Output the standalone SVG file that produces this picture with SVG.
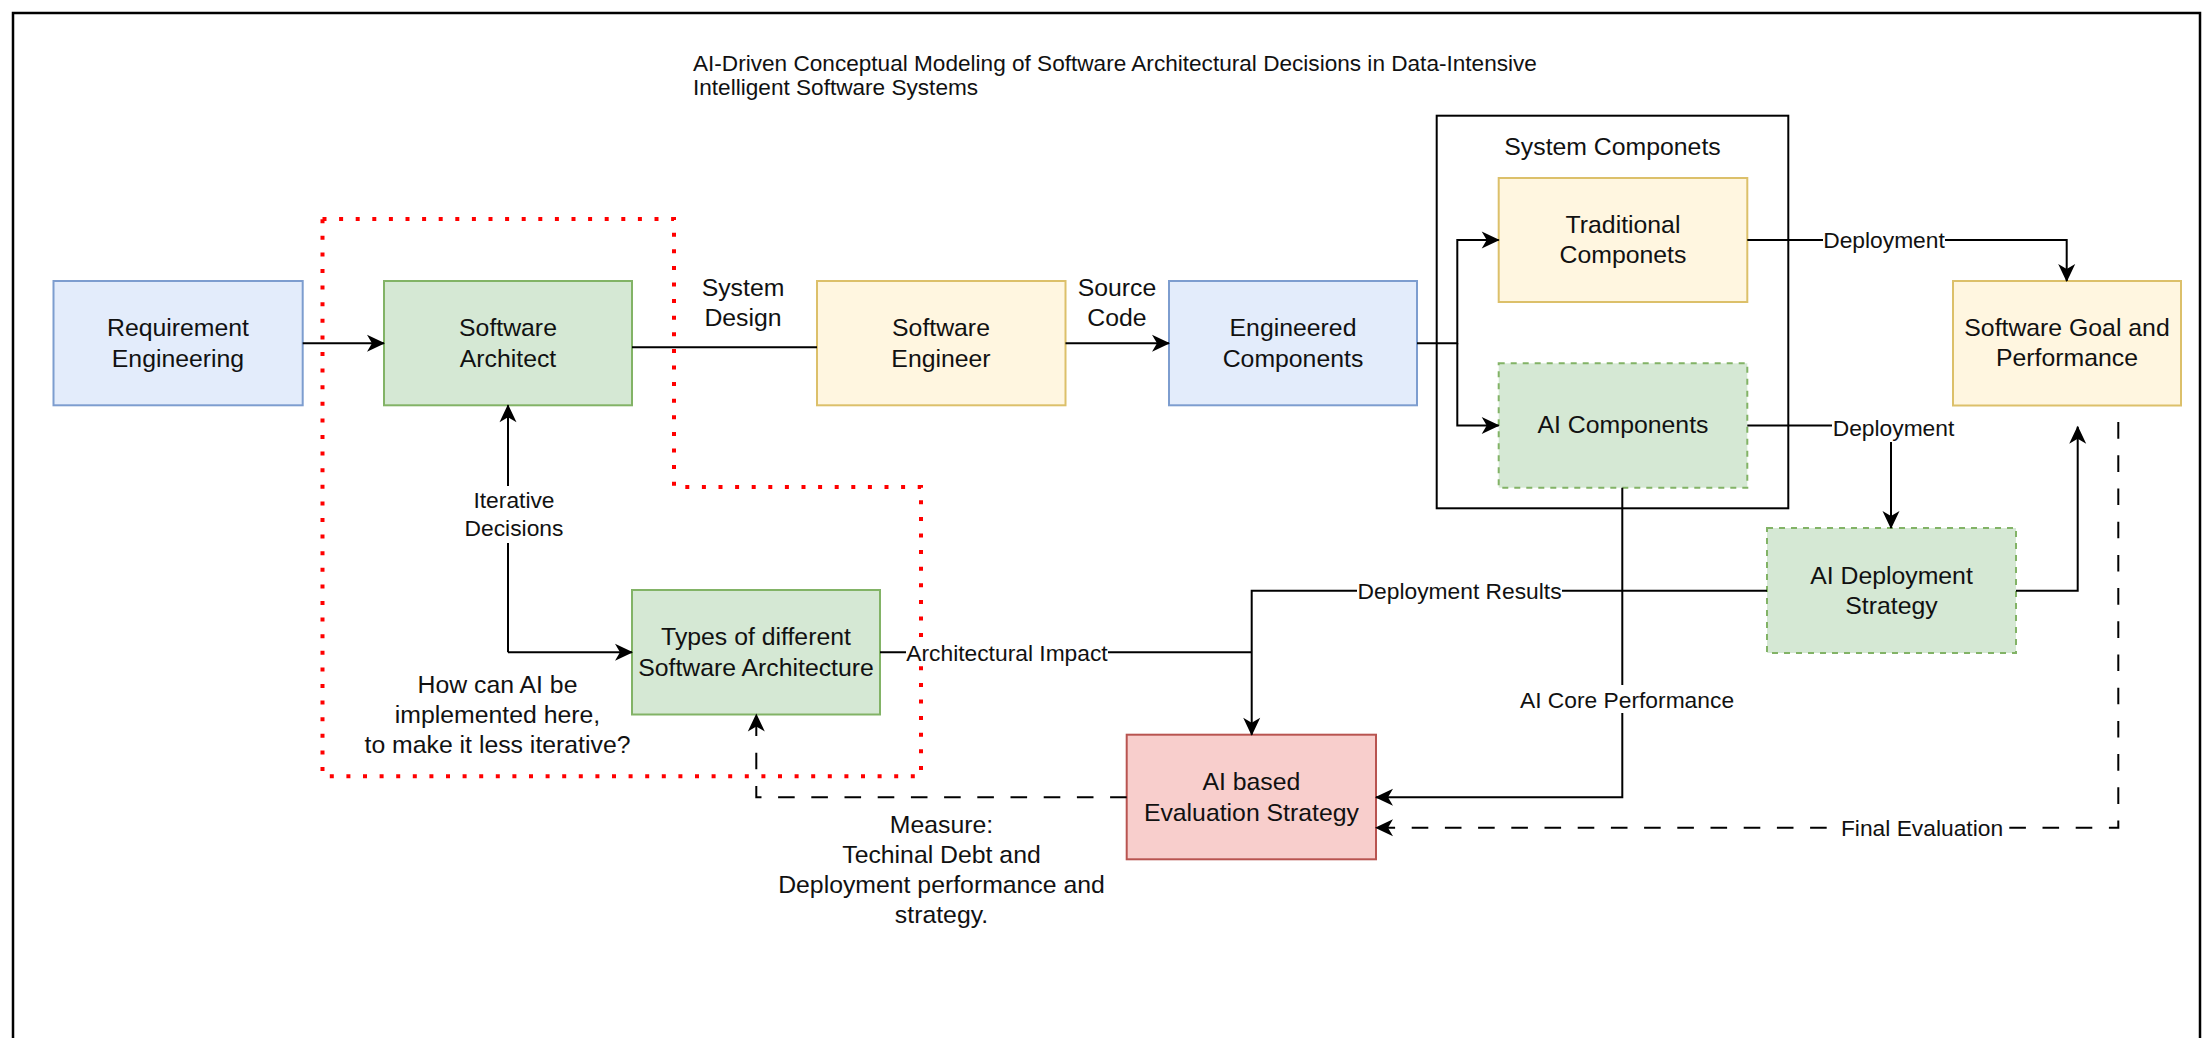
<svg xmlns="http://www.w3.org/2000/svg" width="2208" height="1038" viewBox="0 0 2208 1038">
<defs>
<style>
.t{font-family:"Liberation Sans",Arial,Helvetica,sans-serif;fill:#111}
.n{font-size:24.8px;text-anchor:middle}
.e{font-size:22.8px;text-anchor:middle}
.c{fill:none;stroke:#000;stroke-width:2}
.d{stroke-dasharray:16.6 16.6}
.bg{fill:#fff}
.blue{fill:#e3ecfb;stroke:#7d9dcf;stroke-width:2}
.green{fill:#d5e8d4;stroke:#82b366;stroke-width:2}
.greend{fill:#d5e8d4;stroke:#82b366;stroke-width:2;stroke-dasharray:6 6}
.yellow{fill:#fff6e0;stroke:#dcc06a;stroke-width:2}
.red{fill:#f8cecc;stroke:#b85450;stroke-width:2}
</style>
<marker id="arr" markerUnits="userSpaceOnUse" viewBox="0 0 18 17" markerWidth="18" markerHeight="17" refX="17" refY="8.5" orient="auto-start-reverse" overflow="visible">
<path d="M0,0 L18,8.5 L0,17 L5,8.5 Z" fill="#000"/>
</marker>
</defs>
<rect x="0" y="0" width="2208" height="1038" fill="#fff"/>
<rect id="frame" x="13" y="13" width="2187" height="1100" fill="none" stroke="#000" stroke-width="2.5"/>

<g id="title">
<text class="t" x="693" y="71" font-size="22.6">AI-Driven Conceptual Modeling of Software Architectural Decisions in Data-Intensive</text>
<text class="t" x="693" y="95" font-size="22.6">Intelligent Software Systems</text>
</g>

<g id="ai-focus-region">
<path d="M322.5,219 H674 V487 H921 V776.3 H322.5 Z" fill="none" stroke="#ff0000" stroke-width="4" stroke-dasharray="4 12.6"/>
</g>

<g id="system-components">
<rect x="1436.7" y="115.7" width="351.6" height="392.6" fill="none" stroke="#000" stroke-width="2"/>
<text class="t n" x="1612.5" y="154.5">System Componets</text>
</g>

<g id="requirement-engineering">
<rect class="blue" x="53.5" y="281" width="249.2" height="124.3"/>
<text class="t n" x="178" y="336">Requirement</text>
<text class="t n" x="178" y="366.5">Engineering</text>
</g>
<g id="software-architect">
<rect class="green" x="384" y="281" width="248" height="124.3"/>
<text class="t n" x="508" y="336">Software</text>
<text class="t n" x="508" y="366.5">Architect</text>
</g>
<g id="software-engineer">
<rect class="yellow" x="817" y="281" width="248.5" height="124.3"/>
<text class="t n" x="941" y="336">Software</text>
<text class="t n" x="941" y="366.5">Engineer</text>
</g>
<g id="engineered-components">
<rect class="blue" x="1169" y="281" width="248" height="124.3"/>
<text class="t n" x="1293" y="336">Engineered</text>
<text class="t n" x="1293" y="366.5">Components</text>
</g>
<g id="traditional-componets">
<rect class="yellow" x="1498.7" y="178" width="248.6" height="124"/>
<text class="t n" x="1623" y="232.7">Traditional</text>
<text class="t n" x="1623" y="263.3">Componets</text>
</g>
<g id="ai-components">
<rect class="greend" x="1498.7" y="363.3" width="248.6" height="124.4"/>
<text class="t n" x="1623" y="432.7">AI Components</text>
</g>
<g id="software-goal">
<rect class="yellow" x="1953" y="281" width="228" height="124.5"/>
<text class="t n" x="2067" y="335.7">Software Goal and</text>
<text class="t n" x="2067" y="366.3">Performance</text>
</g>
<g id="ai-deployment-strategy">
<rect class="greend" x="1767" y="528" width="249" height="125"/>
<text class="t n" x="1891.5" y="583.5">AI Deployment</text>
<text class="t n" x="1891.5" y="614">Strategy</text>
</g>
<g id="types-of-architecture">
<rect class="green" x="632" y="590" width="248" height="124.5"/>
<text class="t n" x="756" y="645">Types of different</text>
<text class="t n" x="756" y="676">Software Architecture</text>
</g>
<g id="ai-evaluation-strategy">
<rect class="red" x="1126.7" y="734.7" width="249.3" height="124.6"/>
<text class="t n" x="1251.4" y="790">AI based</text>
<text class="t n" x="1251.4" y="820.5">Evaluation Strategy</text>
</g>

<g id="question-note">
<text class="t n" x="497.5" y="692.5">How can AI be</text>
<text class="t n" x="497.5" y="722.5">implemented here,</text>
<text class="t n" x="497.5" y="752.5">to make it less iterative?</text>
</g>

<g id="connectors">
<path class="c" d="M302.7,343.3 H384" marker-end="url(#arr)"/>
<path class="c" d="M632,347.3 H817"/>
<path class="c" d="M1065.5,343.3 H1169" marker-end="url(#arr)"/>
<path class="c" d="M1417,343.3 H1457.3 V240 H1498.7" marker-end="url(#arr)"/>
<path class="c" d="M1457.3,343.3 V425.5 H1498.7" marker-end="url(#arr)"/>
<path class="c" d="M1747.3,240 H2066.7 V281" marker-end="url(#arr)"/>
<path class="c" d="M1747.3,425.5 H1891 V528" marker-end="url(#arr)"/>
<path class="c" d="M2016,590.7 H2077.7 V426.7" marker-end="url(#arr)"/>
<path class="c" d="M1767,590.7 H1251.7 V734.7" marker-end="url(#arr)"/>
<path class="c" d="M880,652.3 H1251.7"/>
<path class="c" d="M1622.3,487.7 V797.3 H1376" marker-end="url(#arr)"/>
<path class="c d" d="M2118.3,405.5 V827.7 H1376" stroke-dashoffset="16.6" marker-end="url(#arr)"/>
<path class="c d" d="M1126.7,797.3 H756.3 V714.5" marker-end="url(#arr)"/>
<path class="c" d="M508,652.3 H632" marker-end="url(#arr)"/>
<path class="c" d="M508,652.3 V405.3" marker-end="url(#arr)"/>

<text class="t n" x="743" y="296">System</text>
<text class="t n" x="743" y="326">Design</text>
<text class="t n" x="1117" y="296">Source</text>
<text class="t n" x="1117" y="326">Code</text>

<rect class="bg" x="1823" y="227" width="122" height="26"/>
<text class="t e" x="1884" y="248">Deployment</text>
<rect class="bg" x="1832" y="414" width="123" height="28"/>
<text class="t e" x="1893.5" y="436">Deployment</text>
<rect class="bg" x="1357" y="578" width="205" height="26"/>
<text class="t e" x="1459.6" y="599">Deployment Results</text>
<rect class="bg" x="906" y="639" width="202" height="26"/>
<text class="t e" x="1007" y="660.5">Architectural Impact</text>
<rect class="bg" x="1517" y="685" width="220" height="28"/>
<text class="t e" x="1627" y="707.7">AI Core Performance</text>
<rect class="bg" x="1836" y="814" width="172" height="27"/>
<text class="t e" x="1922" y="836">Final Evaluation</text>
<rect class="bg" x="462" y="486" width="104" height="57"/>
<text class="t e" x="514" y="508">Iterative</text>
<text class="t e" x="514" y="536">Decisions</text>

<text class="t n" x="941.5" y="833">Measure:</text>
<text class="t n" x="941.5" y="863">Techinal Debt and</text>
<text class="t n" x="941.5" y="893">Deployment performance and</text>
<text class="t n" x="941.5" y="923">strategy.</text>
</g>
</svg>
